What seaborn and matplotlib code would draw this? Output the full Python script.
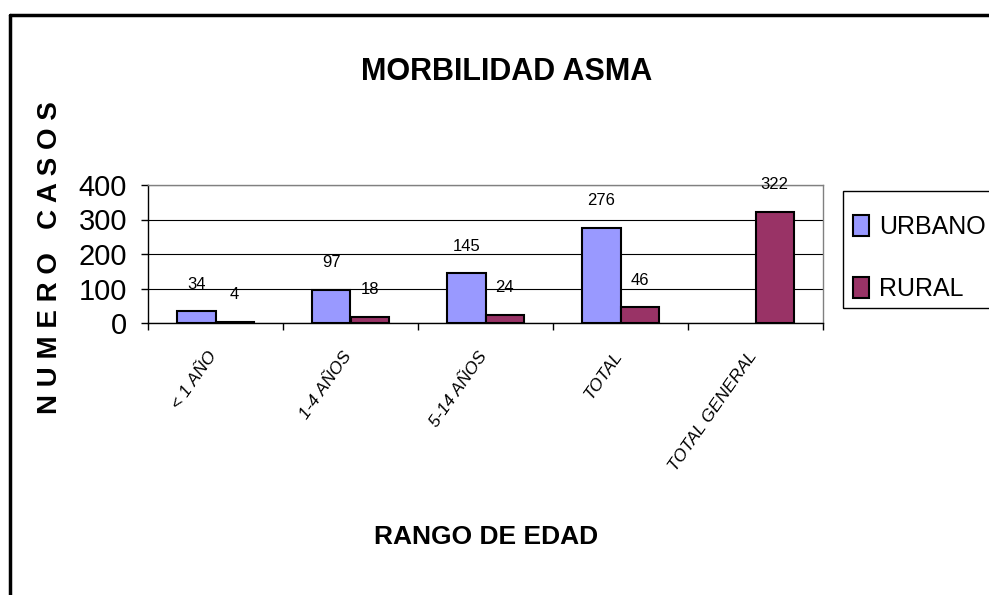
import pandas as pd
import matplotlib.pyplot as plt
import matplotlib.lines as mlines
import matplotlib.patches as mpatches
from matplotlib.transforms import ScaledTranslation
import seaborn as sns

# Data
categorias = ["< 1 AÑO", "1-4 AÑOS", "5-14 AÑOS", "TOTAL", "TOTAL GENERAL"]
urbano = [34, 97, 145, 276, None]
rural = [4, 18, 24, 46, 322]
series = ["URBANO", "RURAL"]
colores = ["#9999FF", "#993366"]

df = pd.DataFrame({
    "rango": categorias * 2,
    "serie": ["URBANO"] * 5 + ["RURAL"] * 5,
    "casos": urbano + rural,
})

sns.set_style("white")
plt.rcParams["font.family"] = ["Liberation Sans", "DejaVu Sans"]
plt.rcParams["text.color"] = "black"
plt.rcParams["xtick.color"] = "black"
plt.rcParams["ytick.color"] = "black"

fig = plt.figure(figsize=(9.89, 5.95), dpi=100)
ax = fig.add_axes([148 / 989, 1 - 323 / 595, 675 / 989, 138 / 595])

sns.barplot(data=df, x="rango", y="casos", hue="serie", hue_order=series,
            palette=colores, width=0.57, edgecolor="black", linewidth=1.5,
            saturation=1, ax=ax)

ax.set_ylim(0, 400)
ax.set_xlim(-0.5, len(categorias) - 0.5)
ax.set_yticks([0, 100, 200, 300, 400])
ax.yaxis.grid(True, color="black", linewidth=0.8)
ax.set_axisbelow(True)
for side in ["top", "right"]:
    ax.spines[side].set_color("#808080")
    ax.spines[side].set_linewidth(1)
for side in ["left", "bottom"]:
    ax.spines[side].set_color("black")
    ax.spines[side].set_linewidth(1)

# tick marks: y outside, x between categories
ax.tick_params(axis="y", labelsize=21, length=5, width=1, direction="out",
               left=True, pad=10)
ax.set_xticks([i - 0.5 for i in range(len(categorias) + 1)], minor=True)
ax.tick_params(axis="x", which="minor", length=5, width=1, bottom=True)
ax.tick_params(axis="x", which="major", length=0, pad=0)
ax.set_xticks(range(len(categorias)))
ax.set_xticklabels(categorias, rotation=55, ha="right", rotation_mode="anchor",
                   fontsize=12.5, fontstyle="italic")
for lab in ax.get_xticklabels():
    lab.set_transform(lab.get_transform() +
                      ScaledTranslation(-8 / 100, -26 / 100, fig.dpi_scale_trans))

# value labels
for cont in ax.containers:
    for bar in cont:
        h = bar.get_height()
        if h != h or h == 0:
            continue
        ax.annotate(f"{int(h)}", (bar.get_x() + bar.get_width() / 2, h),
                    xytext=(0, 14), textcoords="offset points",
                    ha="center", va="bottom", fontsize=12)

ax.set_xlabel("")
ax.set_ylabel("")
fig.text(486 / 989, 1 - 537 / 595, "RANGO DE EDAD", ha="center", va="center",
         fontsize=19, fontweight="bold")
fig.text(507 / 989, 1 - 72 / 595, "MORBILIDAD ASMA", ha="center", va="center",
         fontsize=22, fontweight="bold")
fig.text(50 / 989, 1 - 258 / 595, "N U M E R O   C A S O S", ha="center",
         va="center", rotation=90, fontsize=20, fontweight="bold")

# legend: entries without frame, box drawn separately
ax.legend_.remove()
handles, labels = ax.get_legend_handles_labels()
fig.legend(handles, labels, loc="center left",
           bbox_to_anchor=(853 / 989, 1 - 258 / 595),
           fontsize=18, frameon=False,
           handlelength=0.65, handleheight=0.95, labelspacing=1.5,
           borderpad=0, handletextpad=0.4, borderaxespad=0)
fig.add_artist(mpatches.Rectangle((843 / 989, 1 - 308 / 595), 0.2, 117 / 595,
                                  transform=fig.transFigure, fill=False,
                                  edgecolor="black", linewidth=1))

# outer frame of the chart area
fig.add_artist(mlines.Line2D([10 / 989, 10 / 989], [0, 1 - 15 / 595],
                             color="black", linewidth=2.5))
fig.add_artist(mlines.Line2D([10 / 989, 1], [1 - 15 / 595, 1 - 15 / 595],
                             color="black", linewidth=2.5))

fig.savefig("out.png", dpi=100)
